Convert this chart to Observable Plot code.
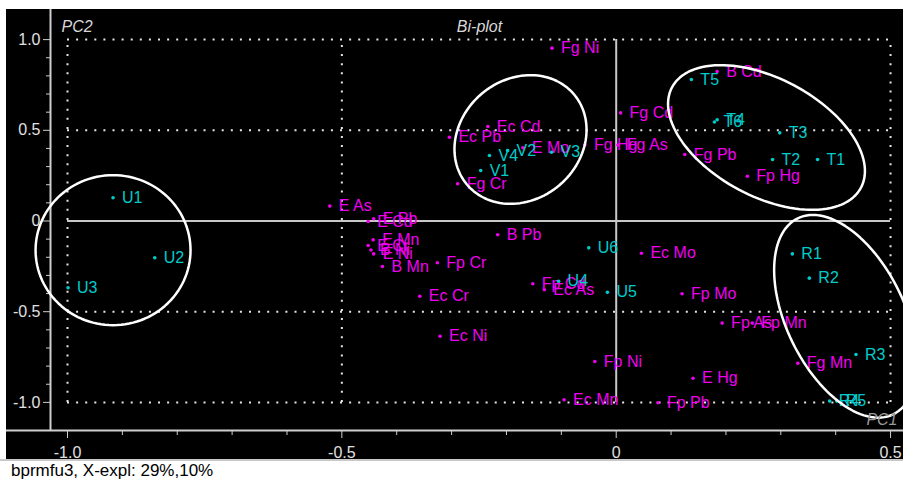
<!DOCTYPE html>
<html>
<head>
<meta charset="utf-8">
<script src="https://cdn.jsdelivr.net/npm/d3@7"></script>
<script src="https://cdn.jsdelivr.net/npm/@observablehq/plot@0.6"></script>
<style>
  html, body { margin: 0; padding: 0; background: #fff; overflow: hidden; }
  #chart { position: absolute; left: 6px; top: 9px; width: 897px; height: 450px; background: #000; }
  #status {
    position: absolute; left: 0; top: 459px; width: 903px; height: 23px;
    box-sizing: border-box; border-top: 2px solid #c8c8c8; background: #fff;
    font: 17px "Liberation Sans", Arial, sans-serif; color: #000;
    padding-left: 11px; line-height: 20px; white-space: nowrap;
  }
</style>
</head>
<body>
<div id="chart"></div>
<div id="status">bprmfu3, X-expl: 29%,10%</div>
<script>
// Sample scores (cyan)
const sampleNames = ["U1","U2","U3","U4","U5","U6","V1","V2","V3","V4","T1","T2","T3","T4","T5","T6","R1","R2","R3","R4","R5"];
const sampleX = [-0.917,-0.841,-0.999,-0.105,-0.016,-0.050,-0.247,-0.198,-0.118,-0.231,0.367,0.285,0.298,0.184,0.137,0.179,0.321,0.352,0.437,0.389,0.402];
const sampleY = [0.128,-0.203,-0.368,-0.332,-0.393,-0.148,0.278,0.389,0.379,0.361,0.339,0.339,0.486,0.558,0.780,0.546,-0.181,-0.315,-0.736,-0.993,-0.993];

// Variable loadings (magenta)
const variableNames = ["Fg Ni","B Cd","Fg Cd","Fg Hg","Fg As","Fg Pb","Fp Hg","Ec Cd","Ec Pb","E Mo","Fg Cr","E As","E Cd","E Pb","E Mn","E Cr","E Ni","B Ni","B Mn","B Pb","Fp Cr","Ec Cr","Ec Ni","Fp Cd","Ec As","Ec Mo","Fp Mo","Fp As","Fp Mn","Fp Ni","Fg Mn","E Hg","Ec Mn","Fp Pb"];
const variableX = [-0.117,0.184,0.008,-0.057,0.003,0.125,0.239,-0.234,-0.304,-0.170,-0.289,-0.522,-0.452,-0.442,-0.443,-0.452,-0.442,-0.447,-0.426,-0.216,-0.326,-0.358,-0.321,-0.152,-0.131,0.046,0.120,0.193,0.248,-0.039,0.331,0.140,-0.095,0.076];
const variableY = [0.953,0.824,0.596,0.420,0.419,0.367,0.247,0.521,0.462,0.404,0.205,0.082,-0.003,0.012,-0.104,-0.135,-0.181,-0.160,-0.251,-0.076,-0.230,-0.415,-0.635,-0.346,-0.379,-0.178,-0.401,-0.563,-0.563,-0.775,-0.784,-0.867,-0.986,-1.002];

// Group ellipses: centre and two conjugate semi-axis vectors, in PC units
const ellipseGroups = ["U","V","T","R"];
const ellipseCx = [-0.917,-0.1744,0.2739,0.4179];
const ellipseCy = [-0.161,0.4493,0.4603,-0.5254];
const ellipseUx = [0.1412,0.0977,0.1722,0.0870];
const ellipseUy = [0,0.2481,-0.2767,-0.5402];
const ellipseVx = [0,0.0703,-0.0504,-0.0967];
const ellipseVy = [-0.4135,-0.2534,-0.2872,-0.1425];

// Axis ticks
const xMajor = [-1, -0.5, 0, 0.5];
const xTickLabels = ["-1.0", "-0.5", "0", "0.5"];
const yMajor = [-1, -0.5, 0, 0.5, 1];
const yTickLabels = ["-1.0", "-0.5", "0", "0.5", "1.0"];
const xMinor = d3.range(-10, 6).map(i => i / 10).filter(v => !xMajor.some(m => Math.abs(m - v) < 1e-9));
const yMinor = d3.range(-10, 11).map(i => i / 10).filter(v => !yMajor.some(m => Math.abs(m - v) < 1e-9));

const samples = sampleNames.map((name, i) => ({name, x: sampleX[i], y: sampleY[i]}));
const variables = variableNames.map((name, i) => ({name, x: variableX[i], y: variableY[i]}));

const ellipsePoints = [];
ellipseGroups.forEach((g, i) => {
  const n = 120;
  for (let k = 0; k < n; ++k) {
    const t = 2 * Math.PI * k / n;
    ellipsePoints.push({
      group: g,
      x: ellipseCx[i] + ellipseUx[i] * Math.cos(t) + ellipseVx[i] * Math.sin(t),
      y: ellipseCy[i] + ellipseUy[i] * Math.cos(t) + ellipseVy[i] * Math.sin(t)
    });
  }
});

const CYAN = "#00cccc";
const MAGENTA = "#f000f0";
const AXIS = "#cfcfcf";
const FONT = '"Liberation Sans", Arial, sans-serif';

const xDomain = [-1.031, 0.5236];
const yDomain = [-1.155, 1.166];

const chart = Plot.plot({
  width: 897,
  height: 450,
  marginLeft: 44,
  marginRight: 0,
  marginTop: 0,
  marginBottom: 29,
  x: {domain: xDomain, label: null},
  y: {domain: yDomain, label: null},
  style: {background: "#000", color: "#e0e0e0", fontFamily: FONT, fontSize: "16px", overflow: "visible"},
  marks: [
    // dotted reference lines
    Plot.ruleX(xMajor.filter(v => v !== 0), {y1: -1, y2: 1, stroke: "#e6e6e6", strokeWidth: 2, strokeDasharray: "2,7.1"}),
    Plot.ruleY(yMajor.filter(v => v !== 0), {x1: -1, x2: 0.5, stroke: "#e6e6e6", strokeWidth: 2, strokeDasharray: "2,7.1"}),
    // origin lines
    Plot.ruleX([0], {y1: -1, y2: 1, stroke: "#c8c8c8", strokeWidth: 2}),
    Plot.ruleY([0], {x1: -1, x2: 0.5, stroke: "#c8c8c8", strokeWidth: 2}),
    // axis lines
    Plot.ruleX([xDomain[0]], {stroke: AXIS, strokeWidth: 2}),
    Plot.ruleY([yDomain[0]], {stroke: AXIS, strokeWidth: 2, insetLeft: -44}),
    // ticks and tick labels
    Plot.axisY(yMajor, {anchor: "left", tickSize: 7, tickPadding: 3, tickFormat: d => yTickLabels[yMajor.indexOf(d)], label: null, stroke: AXIS, fill: "#e0e0e0", fontSize: 16}),
    Plot.axisY(yMinor, {anchor: "left", tickSize: 4, tickFormat: () => "", label: null, stroke: AXIS}),
    Plot.axisX(xMajor, {anchor: "bottom", tickSize: 8, tickPadding: 8, tickFormat: d => xTickLabels[xMajor.indexOf(d)], label: null, stroke: AXIS, fill: "#e0e0e0", fontSize: 16}),
    Plot.axisX(xMinor, {anchor: "bottom", tickSize: 5, tickFormat: () => "", label: null, stroke: AXIS}),
    // variables
    Plot.dot(variables, {x: "x", y: "y", r: 1.8, fill: MAGENTA}),
    Plot.text(variables, {x: "x", y: "y", text: "name", dx: 9, textAnchor: "start", fill: MAGENTA, fontSize: 16}),
    // samples
    Plot.dot(samples, {x: "x", y: "y", r: 1.8, fill: CYAN}),
    Plot.text(samples, {x: "x", y: "y", text: "name", dx: 9, textAnchor: "start", fill: CYAN, fontSize: 16}),
    // group ellipses
    Plot.line(ellipsePoints, {x: "x", y: "y", z: "group", curve: "linear-closed", stroke: "#fff", strokeWidth: 2.5}),
    // panel annotations
    Plot.text(["PC2"], {frameAnchor: "top-left", lineAnchor: "top", dx: 11, dy: 11, fontStyle: "italic", fill: "#d8d8d8", fontSize: 16}),
    Plot.text(["Bi-plot"], {frameAnchor: "top", lineAnchor: "top", dx: 2.5, dy: 11, fontStyle: "italic", fill: "#d8d8d8", fontSize: 16}),
    Plot.text(["PC1"], {frameAnchor: "bottom-right", lineAnchor: "bottom", textAnchor: "end", dx: -6, dy: -6, fontStyle: "italic", fill: "#9a9a9a", fontSize: 16})
  ]
});

document.getElementById("chart").appendChild(chart);
</script>
</body>
</html>
